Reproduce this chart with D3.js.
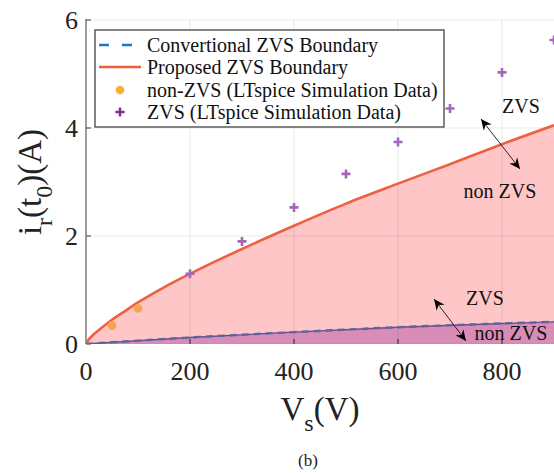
<!DOCTYPE html>
<html><head><meta charset="utf-8">
<script src="https://cdn.jsdelivr.net/npm/d3@7/dist/d3.min.js"></script>
<style>body{margin:0;background:#fff}svg{display:block;font-family:"Liberation Serif","Times New Roman",serif}</style>
</head><body><svg id="c" width="554" height="473"></svg>
<script>
// ---- data ----
const propV = [0,5,15,30,50,75,100,150,200,300,400,500,600,700,800,900];
const propI = [0,0.08,0.18,0.3,0.45,0.61,0.77,1.05,1.3,1.76,2.19,2.6,2.97,3.33,3.7,4.05];
const convV = [0,200,400,600,800,900];
const convI = [0,0.12,0.22,0.31,0.38,0.41];
const zvsV = [200,300,400,500,600,700,800,900];
const zvsI = [1.3,1.9,2.53,3.15,3.74,4.36,5.03,5.63];
const nonV = [50,100];
const nonI = [0.34,0.66];
const xTicks = [0,200,400,600,800];
const yTicks = [0,2,4,6];
const legendLabels = ["Convertional ZVS Boundary","Proposed ZVS Boundary","non-ZVS (LTspice Simulation Data)","ZVS (LTspice Simulation Data)"];

const svg = d3.select("#c");
const L=86,R=554,T=20,B=344;
const x = d3.scaleLinear().domain([0,900]).range([L,R]);
const y = d3.scaleLinear().domain([0,6]).range([B,T]);

const defs = svg.append("defs");
defs.append("clipPath").attr("id","clip").append("rect").attr("x",L).attr("y",T-2).attr("width",R-L).attr("height",B-T+2);
defs.append("marker").attr("id","ah").attr("viewBox","-12 -6 14 12").attr("refX",0).attr("refY",0)
  .attr("markerWidth",14).attr("markerHeight",12).attr("markerUnits","userSpaceOnUse").attr("orient","auto-start-reverse")
  .append("path").attr("d","M0,0 L-11,-5 L-7.5,0 L-11,5 Z").attr("fill","#000");

const g = svg.append("g").attr("clip-path","url(#clip)");
const prop = propV.map((v,i)=>[v,propI[i]]);
const conv = convV.map((v,i)=>[v,convI[i]]);
const area = d3.area().curve(d3.curveMonotoneX).x(d=>x(d[0])).y0(y(0)).y1(d=>y(d[1]));
const line = d3.line().curve(d3.curveMonotoneX).x(d=>x(d[0])).y(d=>y(d[1]));

g.append("path").attr("d",area(prop)).attr("fill","#ffc6c7");
g.append("path").attr("d",area(conv)).attr("fill","#d98db6");

// grid
g.selectAll(".gx").data(xTicks.filter(t=>t>0)).enter().append("line")
  .attr("x1",d=>x(d)).attr("x2",d=>x(d)).attr("y1",T).attr("y2",B)
  .attr("stroke","#000").attr("stroke-opacity",0.08).attr("stroke-width",1.2);
g.selectAll(".gy").data(yTicks.filter(t=>t>0)).enter().append("line")
  .attr("x1",L).attr("x2",R).attr("y1",d=>y(d)).attr("y2",d=>y(d))
  .attr("stroke","#000").attr("stroke-opacity",0.08).attr("stroke-width",1.2);

// bottom green line
g.append("line").attr("x1",L).attr("x2",R).attr("y1",B).attr("y2",B).attr("stroke","#8db56a").attr("stroke-width",1.5);

// conventional boundary
g.append("path").attr("d",line(conv)).attr("fill","none").attr("stroke","#7e3f9a").attr("stroke-width",1.3);
g.append("path").attr("d",line(conv)).attr("fill","none").attr("stroke","#56699f").attr("stroke-width",2.4).attr("stroke-dasharray","7,5");
// proposed
g.append("path").attr("d",line(prop)).attr("fill","none").attr("stroke","#ef6040").attr("stroke-width",2.6);

// axes lines and ticks
const ax = svg.append("g");
ax.append("line").attr("x1",L).attr("x2",L).attr("y1",T-1).attr("y2",B).attr("stroke","#858585").attr("stroke-width",1.6);
ax.selectAll(".tx").data(xTicks.filter(t=>t>0)).enter().append("line")
  .attr("x1",d=>x(d)).attr("x2",d=>x(d)).attr("y1",B).attr("y2",B-5).attr("stroke","#444").attr("stroke-width",1.3);
ax.selectAll(".ty").data(yTicks).enter().append("line")
  .attr("x1",L).attr("x2",L+5).attr("y1",d=>y(d)).attr("y2",d=>y(d)).attr("stroke","#666").attr("stroke-width",1.3);

ax.selectAll(".lx").data(xTicks).enter().append("text")
  .attr("x",d=>x(d)).attr("y",380).attr("text-anchor","middle").attr("font-size",26).attr("fill","#222").text(d=>d);
ax.selectAll(".ly").data(yTicks).enter().append("text")
  .attr("x",78).attr("y",d=>y(d)+9).attr("text-anchor","end").attr("font-size",26).attr("fill","#222").text(d=>d);

// markers
svg.selectAll(".nz").data(nonV.map((v,i)=>[v,nonI[i]])).enter().append("circle")
  .attr("cx",d=>x(d[0])).attr("cy",d=>y(d[1])).attr("r",4.3).attr("fill","#f6a34e");
const plus = svg.append("g");
zvsV.forEach((v,i)=>{
  const cx=x(v), cy=y(zvsI[i]);
  plus.append("path").attr("d",`M${cx-4.5},${cy}H${cx+4.5}M${cx},${cy-4.5}V${cy+4.5}`)
    .attr("stroke","#a565ba").attr("stroke-width",2.6);
});

// annotations
const ann = svg.append("g").attr("font-size",20).attr("fill","#111");
ann.append("text").attr("x",521).attr("y",113).attr("text-anchor","middle").text("ZVS");
ann.append("text").attr("x",500).attr("y",198).attr("text-anchor","middle").text("non ZVS");
ann.append("text").attr("x",485).attr("y",305).attr("text-anchor","middle").text("ZVS");
ann.append("text").attr("x",511).attr("y",340).attr("text-anchor","middle").text("non ZVS");
svg.append("line").attr("x1",481).attr("y1",119).attr("x2",520).attr("y2",169)
  .attr("stroke","#111").attr("stroke-width",0.9).attr("marker-start","url(#ah)").attr("marker-end","url(#ah)");
svg.append("line").attr("x1",434).attr("y1",299).attr("x2",466).attr("y2",341)
  .attr("stroke","#111").attr("stroke-width",0.9).attr("marker-start","url(#ah)").attr("marker-end","url(#ah)");

// legend
const lg = svg.append("g");
lg.append("rect").attr("x",95).attr("y",30).attr("width",349).attr("height",97).attr("fill","#fff").attr("stroke","#444").attr("stroke-width",1.3);
const rows=[45,67,90,112];
lg.selectAll(".lt").data(legendLabels).enter().append("text")
  .attr("x",147).attr("y",(d,i)=>rows[i]+7).attr("font-size",20).attr("fill","#111").text(d=>d);
lg.append("line").attr("x1",99).attr("x2",141).attr("y1",rows[0]).attr("y2",rows[0]).attr("stroke","#1f77c4").attr("stroke-width",2.6).attr("stroke-dasharray","10,13");
lg.append("line").attr("x1",99).attr("x2",141).attr("y1",rows[1]).attr("y2",rows[1]).attr("stroke","#e8623c").attr("stroke-width",2.4);
lg.append("circle").attr("cx",120).attr("cy",rows[2]).attr("r",4.3).attr("fill","#f6b032");
lg.append("path").attr("d",`M${115.5},${rows[3]}H${124.5}M120,${rows[3]-4.5}V${rows[3]+4.5}`).attr("stroke","#7e2f8e").attr("stroke-width",2.4);

// axis labels
const xl = svg.append("text").attr("x",320).attr("y",420).attr("text-anchor","middle").attr("font-size",33).attr("fill","#222");
xl.append("tspan").text("V");
xl.append("tspan").attr("font-size",24).attr("dy",11).text("s");
xl.append("tspan").attr("dy",-11).text("(V)");

const yl = svg.append("text").attr("transform","translate(41,182) rotate(-90)").attr("text-anchor","middle").attr("font-size",33).attr("fill","#222");
yl.append("tspan").text("i");
yl.append("tspan").attr("font-size",24).attr("dy",11).text("r");
yl.append("tspan").attr("dy",-11).text("(t");
yl.append("tspan").attr("font-size",24).attr("dy",11).text("0");
yl.append("tspan").attr("dy",-11).text(")(A)");

svg.append("text").attr("x",308).attr("y",466).attr("text-anchor","middle").attr("font-size",17).attr("fill","#222").text("(b)");
</script></body></html>
